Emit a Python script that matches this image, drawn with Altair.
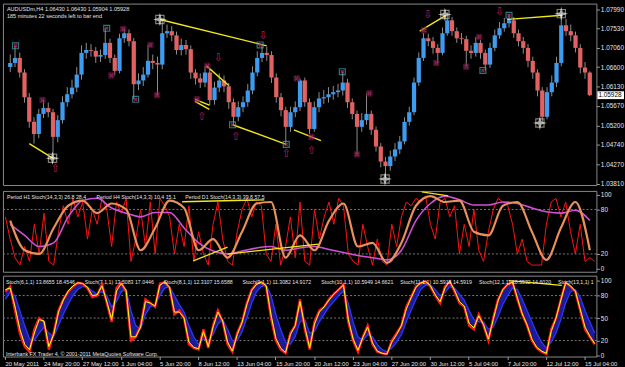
import altair as alt
import pandas as pd

# ---------------- data ----------------
time_labels = ['20 May 2011', '24 May 20:00', '27 May 12:00', '1 Jun 04:00', '5 Jun 20:00',
               '8 Jun 12:00', '13 Jun 04:00', '15 Jun 20:00', '20 Jun 12:00', '23 Jun 04:00',
               '27 Jun 20:00', '30 Jun 12:00', '5 Jul 04:00', '7 Jul 20:00', '12 Jul 12:00',
               '15 Jul 04:00']
price_ticks = [1.0381, 1.0427, 1.0474, 1.0520, 1.0567, 1.0613, 1.0660, 1.0706, 1.0753, 1.0799]
stoch2_ticks = [0, 20, 80, 100]
stoch3_ticks = [0, 20, 50, 80, 100]
levels2 = [20, 80]
levels3 = [20, 50, 80]

first_open = 1.0660
closes = [1.0670, 1.0682, 1.0647, 1.0588, 1.0529, 1.0500, 1.0548, 1.0562, 1.0552, 1.0493,
          1.0533, 1.0576, 1.0595, 1.0611, 1.0642, 1.0694, 1.0701, 1.0699, 1.0685, 1.0689,
          1.0718, 1.0682, 1.0651, 1.0729, 1.0741, 1.0722, 1.0619, 1.0628, 1.0642, 1.0675,
          1.0670, 1.0666, 1.0741, 1.0746, 1.0736, 1.0701, 1.0713, 1.0703, 1.0647, 1.0633,
          1.0623, 1.0647, 1.0581, 1.0611, 1.0628, 1.0614, 1.0576, 1.0541, 1.0564, 1.0576,
          1.0604, 1.0647, 1.0682, 1.0694, 1.0689, 1.0635, 1.0588, 1.0557, 1.0517, 1.0552,
          1.0564, 1.0628, 1.0576, 1.0512, 1.0564, 1.0585, 1.0588, 1.0595, 1.0600, 1.0604,
          1.0623, 1.0576, 1.0548, 1.0517, 1.0533, 1.0548, 1.0510, 1.0470, 1.0434, 1.0423,
          1.0446, 1.0463, 1.0482, 1.0529, 1.0552, 1.0623, 1.0682, 1.0729, 1.0722, 1.0706,
          1.0694, 1.0741, 1.0772, 1.0746, 1.0729, 1.0727, 1.0699, 1.0694, 1.0718, 1.0694,
          1.0666, 1.0706, 1.0736, 1.0753, 1.0765, 1.0772, 1.0741, 1.0722, 1.0706, 1.0675,
          1.0647, 1.0604, 1.0541, 1.0600, 1.0623, 1.0670, 1.0760, 1.0746, 1.0736, 1.0706,
          1.0659, 1.0647, 1.05928]
highs = [1.0690, 1.0711, 1.0695, 1.0655, 1.0598, 1.0540, 1.0560, 1.0581, 1.0575, 1.0560,
         1.0545, 1.0590, 1.0612, 1.0630, 1.0660, 1.0712, 1.0718, 1.0715, 1.0708, 1.0702,
         1.0753, 1.0728, 1.0690, 1.0740, 1.0751, 1.0750, 1.0730, 1.0645, 1.0660, 1.0713,
         1.0690, 1.0685, 1.0774, 1.0762, 1.0758, 1.0745, 1.0728, 1.0725, 1.0712, 1.0655,
         1.0645, 1.0663, 1.0655, 1.0625, 1.0645, 1.0640, 1.0622, 1.0585, 1.0578, 1.0590,
         1.0620, 1.0662, 1.0698, 1.0711, 1.0708, 1.0698, 1.0645, 1.0598, 1.0565, 1.0565,
         1.0578, 1.0633, 1.0635, 1.0585, 1.0578, 1.0600, 1.0605, 1.0612, 1.0615, 1.0620,
         1.0649, 1.0632, 1.0585, 1.0556, 1.0550, 1.0597, 1.0556, 1.0518, 1.0478, 1.0445,
         1.0460, 1.0478, 1.0495, 1.0540, 1.0565, 1.0635, 1.0695, 1.0742, 1.0740, 1.0732,
         1.0715, 1.0755, 1.0791, 1.0780, 1.0755, 1.0742, 1.0735, 1.0712, 1.0732, 1.0725,
         1.0702, 1.0718, 1.0750, 1.0768, 1.0778, 1.0786, 1.0780, 1.0750, 1.0732, 1.0715,
         1.0685, 1.0655, 1.0612, 1.0612, 1.0640, 1.0685, 1.0788, 1.0775, 1.0762, 1.0745,
         1.0715, 1.0672, 1.0650]
lows = [1.0648, 1.0660, 1.0635, 1.0575, 1.0515, 1.0477, 1.0490, 1.0538, 1.0540, 1.0441,
        1.0480, 1.0525, 1.0565, 1.0585, 1.0600, 1.0630, 1.0680, 1.0685, 1.0670, 1.0672,
        1.0680, 1.0670, 1.0640, 1.0645, 1.0718, 1.0710, 1.0583, 1.0605, 1.0615, 1.0635,
        1.0655, 1.0593, 1.0655, 1.0730, 1.0722, 1.0690, 1.0688, 1.0690, 1.0632, 1.0618,
        1.0610, 1.0612, 1.0568, 1.0570, 1.0600, 1.0600, 1.0560, 1.0522, 1.0530, 1.0552,
        1.0565, 1.0595, 1.0638, 1.0672, 1.0675, 1.0622, 1.0575, 1.0542, 1.0477, 1.0505,
        1.0540, 1.0555, 1.0565, 1.0500, 1.0505, 1.0552, 1.0572, 1.0575, 1.0582, 1.0588,
        1.0592, 1.0562, 1.0535, 1.0451, 1.0505, 1.0522, 1.0498, 1.0458, 1.0420, 1.0392,
        1.0412, 1.0435, 1.0452, 1.0475, 1.0520, 1.0545, 1.0615, 1.0675, 1.0710, 1.0692,
        1.0670, 1.0688, 1.0735, 1.0735, 1.0718, 1.0715, 1.0663, 1.0680, 1.0685, 1.0680,
        1.0652, 1.0658, 1.0698, 1.0728, 1.0745, 1.0755, 1.0730, 1.0710, 1.0692, 1.0660,
        1.0632, 1.0590, 1.0526, 1.0535, 1.0590, 1.0612, 1.0662, 1.0735, 1.0722, 1.0695,
        1.0645, 1.0632, 1.05904]
last_price = 1.05928

# trend lines (bar position, price)
trend_x1 = [4.5, 32.0, 41.8, 39.4, 39.4, 47.3, 60.2, 86.7, 105.1]
trend_x2 = [9.6, 54.5, 46.5, 42.4, 42.4, 58.6, 65.9, 92.2, 116.7]
trend_p1 = [1.0477, 1.0774, 1.0663, 1.0583, 1.0578, 1.0522, 1.0510, 1.0746, 1.0774]
trend_p2 = [1.0441, 1.0711, 1.0616, 1.0569, 1.0559, 1.0475, 1.0484, 1.0784, 1.0784]

star_pos = [9.4, 32.0, 79.4, 92.0, 112.0, 116.5]
star_price = [1.0442, 1.0774, 1.0392, 1.0786, 1.0526, 1.0788]
box_pos = [1.6, 20.8, 26.9, 47.3, 53.1, 58.6, 70.4, 100.0, 105.5]
box_price = [1.0711, 1.0753, 1.0583, 1.0522, 1.0713, 1.0475, 1.0649, 1.0652, 1.0784]
xmark_pos = [7.3, 21.8, 24.3, 30.0, 31.4, 42.0, 39.8, 60.8, 63.9, 73.5, 76.1, 87.6, 90.2, 96.5, 99.2]
xmark_price = [1.0581, 1.0640, 1.0751, 1.0713, 1.0593, 1.0663, 1.0583, 1.0633, 1.0493, 1.0451,
               1.0597, 1.0748, 1.0670, 1.0661, 1.0732]
up_arrow_pos = [10.0, 40.8, 48.0, 58.6, 63.9]
up_arrow_price = [1.0416, 1.0541, 1.0493, 1.0451, 1.0458]
down_arrow_pos = [44.3, 53.7, 88.4, 103.5]
down_arrow_price = [1.0682, 1.0734, 1.0784, 1.0793]

# panel 2: Period H1/H4/D1 stochastics
h1_stoch = [70, 40, 15, 5, 30, 10, 60, 20, 75, 10, 5, 50, 85, 60, 95, 70, 90, 40, 80, 60,
            95, 80, 30, 90, 75, 95, 10, 40, 80, 30, 90, 20, 95, 85, 70, 20, 60, 30, 85, 10,
            50, 20, 5, 60, 90, 40, 10, 5, 50, 80, 95, 70, 90, 85, 20, 10, 60, 5, 30, 70,
            15, 90, 10, 5, 80, 40, 70, 90, 60, 95, 85, 20, 10, 5, 60, 30, 5, 40, 10, 5,
            60, 30, 70, 90, 85, 95, 90, 98, 60, 40, 90, 95, 70, 85, 20, 60, 30, 80, 25, 10,
            50, 80, 95, 90, 85, 60, 20, 40, 10, 5, 5, 5, 60, 90, 95, 70, 90, 50, 20, 60,
            10, 15, 10]
h4_stoch = [65, 25, 20, 55, 85, 92, 75, 88, 80, 25, 55, 92, 82, 25, 40, 15, 50, 88, 90, 15,
            45, 25, 65, 88, 30, 35, 8, 35, 85, 98, 90, 92, 50, 45, 85, 90, 50, 12, 55, 90, 25]
d1_stoch = [60, 45, 30, 35, 70, 92, 95, 82, 75, 70, 76, 76, 55, 35, 24, 20, 24, 28, 30, 25,
            28, 30, 26, 22, 18, 15, 12, 25, 65, 88, 98, 93, 86, 86, 90, 88, 82, 77, 75, 79, 65]
p2_trend_x1 = [37.1, 86.7, 39.4, 46.5]
p2_trend_x2 = [54.1, 92.2, 46.5, 65.3]
p2_trend_v1 = [90.4, 103.7, 10.6, 19.9]
p2_trend_v2 = [93.0, 98.4, 29.2, 33.2]

# panel 3: Stoch(6..13,1,1)
stoch_fast = [85, 92, 60, 30, 12, 5, 35, 50, 45, 8, 30, 60, 75, 85, 92, 97, 96, 90, 78, 80,
              95, 70, 45, 90, 97, 85, 20, 25, 40, 75, 70, 65, 96, 98, 90, 55, 60, 50, 15, 10,
              8, 35, 10, 40, 60, 45, 15, 5, 30, 45, 70, 88, 96, 98, 92, 50, 20, 8, 3, 30,
              40, 75, 35, 8, 45, 60, 65, 75, 82, 88, 95, 45, 20, 5, 25, 40, 15, 5, 3, 2,
              20, 30, 40, 65, 78, 92, 97, 99, 92, 80, 70, 92, 99, 85, 70, 65, 40, 35, 55, 40,
              20, 50, 75, 88, 95, 98, 75, 55, 40, 20, 10, 5, 2, 35, 50, 75, 98, 92, 85, 60,
              35, 25, 15]
stoch_slow = [75, 85, 80, 60, 40, 22, 20, 30, 38, 30, 25, 40, 55, 68, 80, 88, 92, 92, 86, 82,
              85, 80, 65, 72, 85, 88, 60, 40, 35, 55, 65, 68, 80, 90, 92, 80, 68, 58, 40, 25,
              15, 22, 20, 28, 42, 48, 35, 20, 20, 32, 50, 70, 85, 92, 94, 80, 55, 35, 18, 15,
              25, 45, 48, 30, 32, 45, 55, 65, 72, 80, 86, 70, 45, 25, 20, 28, 25, 15, 8, 5,
              10, 18, 28, 45, 60, 75, 88, 94, 94, 88, 80, 84, 92, 90, 82, 74, 60, 48, 45, 45,
              35, 38, 52, 68, 80, 90, 88, 75, 60, 45, 30, 18, 10, 18, 30, 48, 70, 85, 88, 78,
              60, 45, 30]
stoch_signal = [88, 90, 65, 35, 15, 8, 30, 48, 46, 12, 28, 58, 74, 86, 93, 97, 96, 91, 80, 81,
                93, 72, 48, 86, 96, 87, 25, 25, 38, 72, 70, 66, 94, 98, 91, 58, 58, 50, 18, 11,
                9, 32, 12, 38, 58, 46, 18, 6, 28, 44, 68, 87, 95, 98, 93, 54, 23, 10, 4, 28,
                40, 72, 38, 10, 42, 58, 65, 74, 82, 88, 94, 48, 22, 7, 24, 38, 17, 6, 3, 2,
                18, 28, 40, 62, 77, 91, 97, 99, 93, 81, 72, 90, 99, 87, 72, 66, 43, 37, 53, 41,
                22, 48, 73, 88, 95, 98, 77, 56, 41, 22, 11, 6, 3, 32, 50, 74, 97, 93, 86, 62,
                38, 26, 16]
p3_trend_x1 = [104.7]
p3_trend_x2 = [115.7]
p3_trend_v1 = [100]
p3_trend_v2 = [93.5]

header_main = ['AUDUSDm,H4  1.06430 1.06430 1.05904 1.05928',
               '185 minutes 22 seconds left to bar end']
header_p2 = ['Period H1 Stoch(14,3,3) 26.8 28.4',
             'Period H4 Stoch(14,3,3) 10.4 15.1',
             'Period D1 Stoch(14,3,3) 39.8 57.5']
header_p3 = ['Stoch(6,1,1) 13.8655 18.4546', 'Stoch(7,1,1) 13.5083 17.0446',
             'Stoch(8,1,1) 12.3107 15.6588', 'Stoch(9,1,1) 11.3082 14.9172',
             'Stoch(10,1,1) 10.5949 14.6621', 'Stoch(11,1,1) 10.5918 14.5919',
             'Stoch(12,1,1) 10.5532 14.6020', 'Stoch(13,1,1) 1']
footer = 'Interbank FX Trader 4, \u00a9 2001-2011 MetaQuotes Software Corp.'

# ---------------- tables ----------------
opens = [first_open] + closes[:-1]
candles = pd.DataFrame([
    dict(pos=i + 0.5, open=o, close=c, high=h, low=l, dir='up' if c >= o else 'down')
    for i, (o, c, h, l) in enumerate(zip(opens, closes, highs, lows))])
trends = pd.DataFrame(dict(x1=trend_x1, x2=trend_x2, p1=trend_p1, p2=trend_p2))
stars = pd.DataFrame(dict(pos=star_pos, price=star_price))
boxes = pd.DataFrame(dict(pos=box_pos, price=box_price))
xmarks = pd.DataFrame(dict(pos=xmark_pos, price=xmark_price))
uparr = pd.DataFrame(dict(pos=up_arrow_pos, price=up_arrow_price, t=['\u21e7'] * len(up_arrow_pos)))
dnarr = pd.DataFrame(dict(pos=down_arrow_pos, price=down_arrow_price, t=['\u21e9'] * len(down_arrow_pos)))
cur = pd.DataFrame(dict(price=[last_price]))

h1_df = pd.DataFrame(dict(pos=[i + 0.5 for i in range(len(h1_stoch))], v=h1_stoch))
h4_df = pd.DataFrame(dict(pos=[3 * k + 1.5 for k in range(len(h4_stoch))], v=h4_stoch))
d1_df = pd.DataFrame(dict(pos=[3 * k + 1.5 for k in range(len(d1_stoch))], v=d1_stoch))
p2_tr = pd.DataFrame(dict(x1=p2_trend_x1, x2=p2_trend_x2, v1=p2_trend_v1, v2=p2_trend_v2))
st_df = pd.DataFrame([dict(pos=i + 0.5, fast=f, slow=s, sig=g)
                      for i, (f, s, g) in enumerate(zip(stoch_fast, stoch_slow, stoch_signal))])
p3_tr = pd.DataFrame(dict(x1=p3_trend_x1, x2=p3_trend_x2, v1=p3_trend_v1, v2=p3_trend_v2))

# ---------------- scales / axes ----------------
W = 602
FONT = 'Liberation Sans'
LBL = '#e4e4e4'
xs = alt.Scale(domain=[0, 122.86], nice=False, zero=False)
ps = alt.Scale(domain=[1.03778, 1.0812], nice=False, zero=False)
s2 = alt.Scale(domain=[-4, 105], nice=False, zero=False)
s3 = alt.Scale(domain=[-1.3, 106.5], nice=False, zero=False)


def yaxis(vals, fmt):
    return alt.Axis(orient='right', values=vals, format=fmt, title=None, labelColor=LBL,
                    labelFontSize=6.5, labelFont=FONT, tickColor='#a0a0a0', tickSize=3,
                    domain=False, grid=False, labelPadding=1, labelOverlap=False)


price_axis = yaxis(price_ticks, '.5f')
axis2 = yaxis(stoch2_ticks, 'd')
axis3 = yaxis(stoch3_ticks, 'd')
label_arr = '[' + ','.join("'%s'" % t for t in time_labels) + ']'
time_axis = alt.Axis(orient='bottom', values=[0.4 + 8 * k for k in range(len(time_labels))],
                     labelExpr=label_arr + '[round((datum.value - 0.4) / 8)]',
                     title=None, labelColor=LBL, labelFontSize=6, labelFont=FONT,
                     labelAlign='left', labelPadding=1, tickColor='#a0a0a0', tickSize=3,
                     domain=False, grid=False, labelOverlap=False)


def PX(f):
    return alt.X(f, type='quantitative', scale=xs, axis=None)


def PY(f):
    return alt.Y(f, type='quantitative', scale=ps, axis=price_axis)


def Y2(f):
    return alt.Y(f, type='quantitative', scale=s2, axis=axis2)


def X3(f):
    return alt.X(f, type='quantitative', scale=xs, axis=time_axis)


def Y3(f):
    return alt.Y(f, type='quantitative', scale=s3, axis=axis3)


def label(txt, x, y, size=5.3, color=LBL):
    return alt.Chart(pd.DataFrame({'t': [txt]})).mark_text(
        align='left', baseline='middle', font=FONT, fontSize=size, color=color
    ).encode(text='t:N', x=alt.value(x), y=alt.value(y))


# ---------------- main price panel ----------------
wicks = alt.Chart(candles).mark_rule(color='#8e8e8e', strokeWidth=1).encode(
    x=PX('pos'), y=PY('low'), y2='high:Q')
bodies = alt.Chart(candles).mark_bar(size=4.3).encode(
    x=PX('pos'), y=PY('open'), y2='close:Q',
    color=alt.Color('dir:N', scale=alt.Scale(domain=['up', 'down'], range=['#3d9cf0', '#e26262']),
                    legend=None))
tlines = alt.Chart(trends).mark_rule(color='#f2e61c', strokeWidth=1.4).encode(
    x=PX('x1'), x2='x2:Q', y=PY('p1'), y2='p2:Q')
star_path = 'M0,-1L0.22,-0.22L1,0L0.22,0.22L0,1L-0.22,0.22L-1,0L-0.22,-0.22Z'
star_box = alt.Chart(stars).mark_point(shape='square', filled=False, color='#b8b8a0',
                                      size=70, strokeWidth=1.2).encode(x=PX('pos'), y=PY('price'))
star_pts = alt.Chart(stars).mark_point(shape=star_path, filled=True, color='#f4f4f4',
                                      size=190).encode(x=PX('pos'), y=PY('price'))
box_sq = alt.Chart(boxes).mark_point(shape='square', filled=False, color='#45a8b8',
                                     size=36, strokeWidth=1.2).encode(x=PX('pos'), y=PY('price'))
box_x = alt.Chart(boxes).mark_point(shape='cross', angle=45, filled=True, color='#c0306e',
                                    size=16).encode(x=PX('pos'), y=PY('price'))
xm_sq = alt.Chart(xmarks).mark_point(shape='square', filled=False, color='#6a1840',
                                     size=30, strokeWidth=1).encode(x=PX('pos'), y=PY('price'))
xm_x = alt.Chart(xmarks).mark_point(shape='cross', angle=45, filled=True, color='#b02868',
                                    size=28).encode(x=PX('pos'), y=PY('price'))
arr_up = alt.Chart(uparr).mark_text(font='DejaVu Sans', fontSize=11, color='#b01e5a').encode(
    x=PX('pos'), y=PY('price'), text='t:N')
arr_dn = alt.Chart(dnarr).mark_text(font='DejaVu Sans', fontSize=11, color='#b01e5a').encode(
    x=PX('pos'), y=PY('price'), text='t:N')
cur_box = alt.Chart(cur).transform_calculate(
    top='datum.price + 0.00094', bot='datum.price - 0.00094'
).mark_rect(color='white').encode(x=alt.value(603), x2=alt.value(630), y=PY('top'), y2='bot:Q')
cur_txt = alt.Chart(cur).mark_text(align='left', baseline='middle', font=FONT, fontSize=6.5,
                                   color='black').encode(
    x=alt.value(604), y=PY('price'), text=alt.Text('price:Q', format='.5f'))

main = alt.layer(
    wicks, bodies, tlines, star_box, star_pts, box_sq, box_x, xm_sq, xm_x, arr_up, arr_dn,
    cur_box, cur_txt,
    label(header_main[0], 4, 6, 5.6), label(header_main[1], 4, 13, 5.6)
).properties(width=W, height=184)

# ---------------- panel 2 ----------------
grid2 = alt.Chart(pd.DataFrame({'lv': levels2})).mark_rule(
    color='#7a7a7a', strokeDash=[2, 2], strokeWidth=1).encode(y=Y2('lv'))
red_l = alt.Chart(h1_df).mark_line(color='#ff1414', strokeWidth=1).encode(x=PX('pos'), y=Y2('v'))
mag_l = alt.Chart(d1_df).mark_line(color='#cf52d6', strokeWidth=1.6, interpolate='monotone').encode(
    x=PX('pos'), y=Y2('v'))
org_l = alt.Chart(h4_df).mark_line(color='#e8915a', strokeWidth=2.2, interpolate='monotone').encode(
    x=PX('pos'), y=Y2('v'))
tr2 = alt.Chart(p2_tr).mark_rule(color='#f2e61c', strokeWidth=1.3).encode(
    x=PX('x1'), x2='x2:Q', y=Y2('v1'), y2='v2:Q')
p2 = alt.layer(
    grid2, red_l, mag_l, org_l, tr2,
    label(header_p2[0], 4, 6), label(header_p2[1], 95, 6), label(header_p2[2], 185, 6)
).properties(width=W, height=82)

# ---------------- panel 3 ----------------
grid3 = alt.Chart(pd.DataFrame({'lv': levels3})).mark_rule(
    color='#7a7a7a', strokeDash=[2, 2], strokeWidth=1).encode(y=Y3('lv'))
band = alt.Chart(st_df).mark_area(color='#1c1ca0', opacity=0.95).encode(
    x=X3('pos'), y=Y3('fast'), y2='slow:Q')
slow_l = alt.Chart(st_df).mark_line(color='#2b3bff', strokeWidth=1.2).encode(x=X3('pos'), y=Y3('slow'))
fast_l = alt.Chart(st_df).mark_line(color='#ff1a1a', strokeWidth=2.4).encode(x=X3('pos'), y=Y3('fast'))
sig_l = alt.Chart(st_df).mark_line(color='#ffff20', strokeWidth=1).encode(x=X3('pos'), y=Y3('sig'))
tr3 = alt.Chart(p3_tr).mark_rule(color='#f2e61c', strokeWidth=1.3).encode(
    x=X3('x1'), x2='x2:Q', y=Y3('v1'), y2='v2:Q')
p3_labels = [label(t, 3 + 80 * k, 6) for k, t in enumerate(header_p3)]
p3 = alt.layer(
    grid3, band, slow_l, fast_l, sig_l, tr3, *p3_labels,
    label(footer, 3, 79, 5.4)
).properties(width=W, height=82)

chart = alt.vconcat(main, p2, p3, spacing=2, padding=0, background='black').configure_view(
    stroke='#8a8a8a', strokeWidth=1)

chart.save('out.html', embed_options={'renderer': 'svg', 'actions': False})
